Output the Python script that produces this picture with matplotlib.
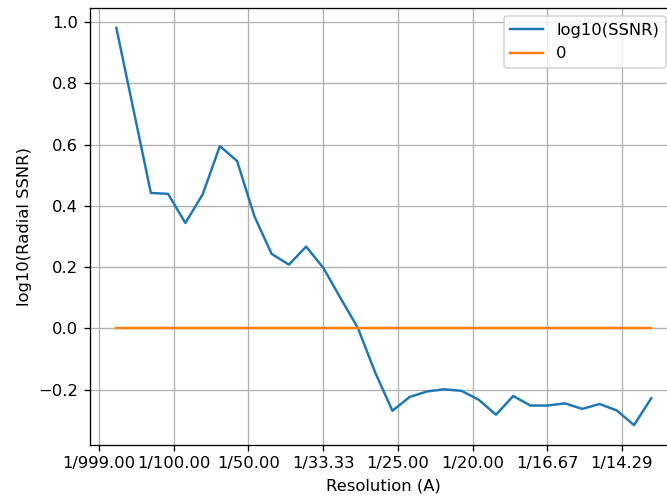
import matplotlib
matplotlib.use("Agg")
import matplotlib.pyplot as plt

# spatial frequency (1/A)
freq = [0.00231, 0.00462, 0.00693, 0.00924, 0.01155, 0.01386, 0.01617, 0.01848,
        0.02079, 0.02310, 0.02541, 0.02772, 0.03003, 0.03234, 0.03465, 0.03696,
        0.03927, 0.04158, 0.04389, 0.04620, 0.04851, 0.05082, 0.05313, 0.05544,
        0.05775, 0.06006, 0.06237, 0.06468, 0.06699, 0.06930, 0.07161, 0.07392]
log_ssnr = [0.981, 0.712, 0.442, 0.439, 0.344, 0.437, 0.595, 0.546,
            0.366, 0.243, 0.208, 0.267, 0.197, 0.098, 0.001, -0.144,
            -0.269, -0.224, -0.206, -0.199, -0.204, -0.233, -0.282, -0.221,
            -0.252, -0.252, -0.245, -0.263, -0.247, -0.268, -0.316, -0.228]
zero_line = [0.0] * len(freq)

tick_pos = [0.0, 0.01, 0.02, 0.03, 0.04, 0.05, 0.06, 0.07]
tick_labels = ["1/999.00", "1/100.00", "1/50.00", "1/33.33", "1/25.00",
               "1/20.00", "1/16.67", "1/14.29"]

DPI = 118
W, H = 667, 498
fig = plt.figure(figsize=(W / DPI, H / DPI), dpi=DPI)
ax = fig.add_axes([89.6 / W, 53 / H, 588.4 / W, 437 / H])
ax.plot(freq, log_ssnr, label="log10(SSNR)")
ax.plot(freq, zero_line, label="0")
ax.set_xticks(tick_pos)
ax.set_xticklabels(tick_labels)
ax.set_xlabel("Resolution (A)")
ax.set_ylabel("log10(Radial SSNR)")
ax.grid(True)
ax.legend(loc="upper right", borderaxespad=0,
          bbox_to_anchor=(665.7 / W, (H - 16.5) / H),
          bbox_transform=fig.transFigure)
fig.savefig("out.png", dpi=DPI)
